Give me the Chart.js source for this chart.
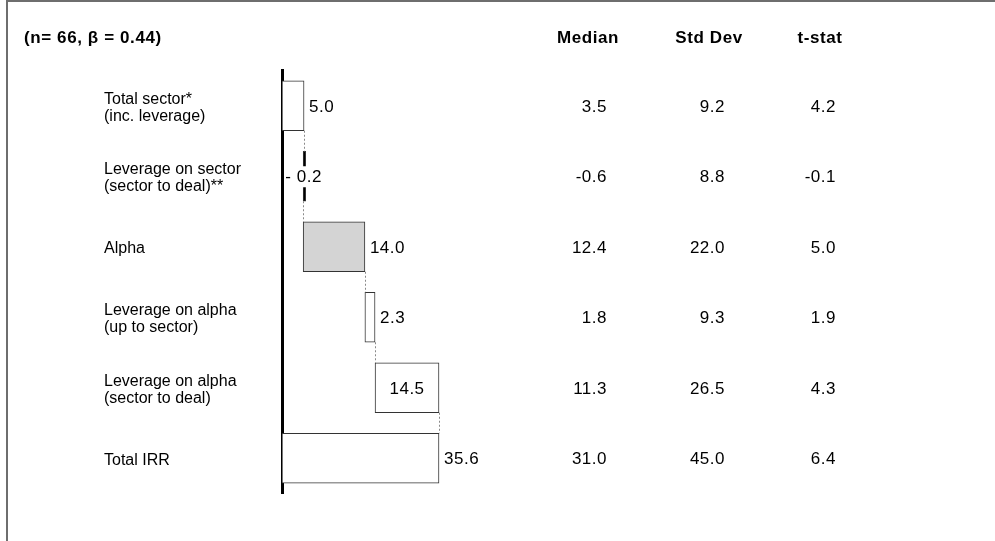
<!DOCTYPE html>
<html>
<head>
<meta charset="utf-8">
<script src="https://cdn.jsdelivr.net/npm/chart.js@4/dist/chart.umd.min.js"></script>
<style>
  html, body { margin: 0; padding: 0; background: #fff; }
  #wrap { position: relative; width: 995px; height: 541px; }
</style>
</head>
<body>
<div id="wrap"><canvas id="chart" width="995" height="541"></canvas></div>
<script>
const categories = [
  ['Total sector*', '(inc. leverage)'],
  ['Leverage on sector', '(sector to deal)**'],
  'Alpha',
  ['Leverage on alpha', '(up to sector)'],
  ['Leverage on alpha', '(sector to deal)'],
  'Total IRR'
];
const contributions = [5.0, -0.2, 14.0, 2.3, 14.5, 35.6];
const medians = [3.5, -0.6, 12.4, 1.8, 11.3, 31.0];
const stdDevs = [9.2, 8.8, 22.0, 9.3, 26.5, 45.0];
const tStats = [4.2, -0.1, 5.0, 1.9, 4.3, 6.4];
const headers = ['Median', 'Std Dev', 't-stat'];
const title = '(n= 66, \u03b2 = 0.44)';

const FONT = "'Liberation Sans', Arial, sans-serif";

// waterfall ranges: each step starts where the previous one ended, last bar is the total
const ranges = [];
let running = 0;
contributions.forEach((v, i) => {
  if (i === contributions.length - 1) {
    ranges.push([0, v]);
  } else {
    ranges.push([running, running + v]);
    running += v;
  }
});

const fills = ['#ffffff', '#000000', '#d4d4d4', '#ffffff', '#ffffff', '#ffffff'];
const labelAnchor = ['end', 'center', 'end', 'end', 'inside', 'end'];

const fmt = (v) => v < 0 ? '-' + Math.abs(v).toFixed(1) : v.toFixed(1);
const fmtBar = (v) => v < 0 ? '- ' + Math.abs(v).toFixed(1) : v.toFixed(1);

const tablePlugin = {
  id: 'table',
  beforeDraw(chart) {
    const ctx = chart.ctx;
    ctx.save();
    ctx.fillStyle = '#fff';
    ctx.fillRect(0, 0, chart.width, chart.height);
    // frame (cut off at right / bottom)
    ctx.strokeStyle = '#6e6e6e';
    ctx.lineWidth = 2;
    ctx.beginPath();
    ctx.moveTo(7, chart.height);
    ctx.lineTo(7, 1);
    ctx.lineTo(chart.width, 1);
    ctx.stroke();
    ctx.restore();
  },
  afterDatasetsDraw(chart) {
    const ctx = chart.ctx;
    const x = chart.scales.x;
    const meta = chart.getDatasetMeta(0);

    // dotted connectors between steps
    ctx.save();
    ctx.strokeStyle = '#8a8a8a';
    ctx.lineWidth = 1;
    ctx.setLineDash([2, 2]);
    for (let i = 0; i < ranges.length - 1; i++) {
      const a = meta.data[i], b = meta.data[i + 1];
      const px = Math.round(x.getPixelForValue(ranges[i][1])) + 0.5;
      ctx.beginPath();
      ctx.moveTo(px, a.y + a.height / 2);
      ctx.lineTo(px, b.y - b.height / 2);
      ctx.stroke();
    }
    ctx.restore();

    // bar value labels
    ctx.save();
    ctx.font = '17px ' + FONT;
    ctx.letterSpacing = '0.5px';
    ctx.fillStyle = '#000';
    ctx.textBaseline = 'middle';
    contributions.forEach((v, i) => {
      const el = meta.data[i];
      const lo = x.getPixelForValue(Math.min(...ranges[i]));
      const hi = x.getPixelForValue(Math.max(...ranges[i]));
      const txt = fmtBar(v);
      const ty = el.y + 1.5;
      if (labelAnchor[i] === 'center') {
        const w = ctx.measureText(txt).width;
        const cx = (lo + hi) / 2;
        ctx.fillStyle = '#fff';
        ctx.fillRect(cx - w / 2 - 1, el.y - 10, w + 2, 21);
        ctx.fillStyle = '#000';
        ctx.textAlign = 'center';
        ctx.fillText(txt, cx, ty);
      } else if (labelAnchor[i] === 'inside') {
        ctx.textAlign = 'center';
        ctx.fillText(txt, (lo + hi) / 2, ty);
      } else {
        ctx.textAlign = 'left';
        ctx.fillText(txt, hi + 5, ty);
      }
    });
    ctx.restore();

    // title, column headers and stats table
    const y = chart.scales.y;
    const headX = [588, 709, 820];
    const colRight = [607, 725, 836];
    ctx.save();
    ctx.fillStyle = '#000';
    ctx.textBaseline = 'middle';
    ctx.font = 'bold 17px ' + FONT;
    ctx.letterSpacing = '0.6px';
    ctx.textAlign = 'left';
    ctx.fillText(title, 24, 38);
    ctx.textAlign = 'center';
    headers.forEach((h, j) => ctx.fillText(h, headX[j], 38));
    ctx.font = '17px ' + FONT;
    ctx.letterSpacing = '0.5px';
    ctx.textAlign = 'right';
    categories.forEach((c, i) => {
      const py = y.getPixelForValue(i) + 1.5;
      [medians, stdDevs, tStats].forEach((arr, j) => ctx.fillText(fmt(arr[i]), colRight[j], py));
    });
    ctx.restore();
  }
};

new Chart(document.getElementById('chart'), {
  type: 'bar',
  data: {
    labels: categories,
    datasets: [{
      data: ranges,
      backgroundColor: fills,
      borderColor: '#333',
      borderWidth: 1,
      borderSkipped: false,
      barThickness: 50,
      minBarLength: 2.5
    }]
  },
  options: {
    indexAxis: 'y',
    responsive: false,
    animation: false,
    devicePixelRatio: 1,
    layout: { padding: { left: 104, top: 70.5, bottom: 47.5, right: 536.6 } },
    plugins: {
      legend: { display: false },
      tooltip: { enabled: false }
    },
    scales: {
      x: { display: false, min: 0, max: 40 },
      y: {
        afterFit: (axis) => { axis.width = 178; },
        grid: { drawOnChartArea: false, drawTicks: false },
        border: { display: true, color: '#000', width: 3 },
        ticks: {
          crossAlign: 'far',
          labelOffset: 2,
          color: '#000',
          font: { family: FONT, size: 16, lineHeight: 1.05 }
        }
      }
    }
  },
  plugins: [tablePlugin]
});
</script>
</body>
</html>
